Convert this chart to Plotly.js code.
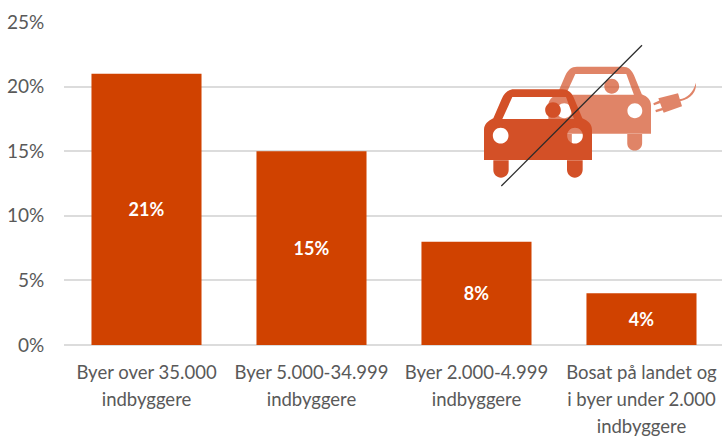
<!DOCTYPE html>
<html><head><meta charset="utf-8">
<script src="https://cdn.plot.ly/plotly-3.0.1.min.js"></script>
<style>html,body{margin:0;padding:0;background:#fff;overflow:hidden}</style>
</head><body><div id="chart" style="width:722px;height:437px"></div>
<script>
const categories = ["Byer over 35.000<br>indbyggere","Byer 5.000-34.999<br>indbyggere","Byer 2.000-4.999<br>indbyggere","Bosat på landet og<br>i byer under 2.000<br>indbyggere"];
const values = [21,15,8,4];
const tickVals = [0,5,10,15,20,25];
const tickText = ["0%","5%","10%","15%","20%","25%"];

const W=722,H=437,ML=64,MT=22,MB=92;
const fx=x=>((x/3+470)-ML)/(W-ML), fy=y=>1-((y/3+30)-MT)/(H-MT-MB);
function pathOf(seg,t){
  return seg.map(s=>{
    const out=[s[0]];
    for(let i=1;i<s.length;i+=2){const [a,b]=t(s[i],s[i+1]);out.push(fx(a)+","+fy(b));}
    return out[0]+out.slice(1).join(" ");
  }).join(" ")+" ";
}
function circ(cx,cy,r){const k=.5523*r;return [
 ["M",cx-r,cy],["C",cx-r,cy-k,cx-k,cy-r,cx,cy-r],["C",cx+k,cy-r,cx+r,cy-k,cx+r,cy],
 ["C",cx+r,cy+k,cx+k,cy+r,cx,cy+r],["C",cx-k,cy+r,cx-r,cy+k,cx-r,cy],["Z"]];}
function leg(x0,x1,y0,y1){const r=(x1-x0)/2,k=.5523*r,yc=y1-r,c=(x0+x1)/2;return [
 ["M",x0,y0],["L",x0,yc],["C",x0,yc+k,c-k,y1,c,y1],["C",c+k,y1,x1,yc+k,x1,yc],["L",x1,y0],["Z"]];}
const carSegs=headX=>[
 ["M",42,390],["L",42,300],["C",42,282,55,272,70,265],["L",95,207],["C",103,188,115,178,132,178],["L",277,178],
 ["C",294,178,306,188,313,207],["L",337,265],["C",354,272,366,282,366,300],["L",366,390],["Z"],
 ["M",97,267],["L",127,201],["L",288,201],["L",312,267],["Z"],
 ...circ(92,317,23.5),...circ(315,317,23.5),...circ(headX,240,23.5),
 ...leg(70,116,391,443),...leg(291,338,391,443)
];
const front=(x,y)=>[x,y];
const rear=(x,y)=>[543-(366-x)*.95,110+(y-178)*.95];
const plugBody=[["M",565,205],["L",624,190],["L",636,229],["L",581,248],["Z"]];
const plugPins=[
 ["M",550,220],["L",570,211],["L",574,218],["L",552,226],["Z"]];
const plugPins2=[
 ["M",556,240],["L",578,233],["L",581,240],["L",558,247],["Z"]];
const plugCable=[["M",628,208],["C",652,204,668,190,678,158],["C",680,185,665,205,631,214],["Z"]];
const pl=(p,c,o)=>({type:"path",xref:"paper",yref:"paper",path:p,fillcolor:c,opacity:o,line:{width:0},layer:"above"});
const shapes=[
 pl(pathOf(carSegs(242),rear),"#D35027",.7),
 pl(pathOf(plugPins,front),"#E08468",1),
 pl(pathOf(plugPins2,front),"#E08468",1),
 pl(pathOf(plugCable,front),"#E08468",1),
 pl(pathOf(plugBody,front),"#E08468",1),
 pl(pathOf(carSegs(249),front),"#D35027",1),
 {type:"line",xref:"paper",yref:"paper",x0:fx(94),y0:fy(468),x1:fx(516),y1:fy(46),line:{color:"#2b2b2b",width:1.3},layer:"above"}
];

const trace={type:"bar",x:categories,y:values,width:.667,
 marker:{color:"#D04200",line:{width:0}},
 text:values.map(v=>v+"%"),textposition:"inside",insidetextanchor:"middle",textangle:0,
 textfont:{family:"Lato, sans-serif",size:18,color:"#fff",weight:700},hoverinfo:"none",cliponaxis:false};
const layout={width:W,height:H,margin:{l:ML,r:0,t:MT,b:MB},showlegend:false,paper_bgcolor:"#fff",plot_bgcolor:"#fff",
 font:{family:"Lato, sans-serif",color:"#595959",size:18.5},
 xaxis:{type:"category",range:[-.5,3.488],fixedrange:true,showgrid:false,zeroline:false,showline:false,ticks:"outside",ticklen:11,tickcolor:"rgba(0,0,0,0)",tickfont:{size:18.5,color:"#595959"},tickangle:0,automargin:false},
 yaxis:{range:[0,25],tickmode:"array",tickvals:tickVals,ticktext:tickText,showgrid:true,gridcolor:"#DCDCDC",gridwidth:2,zeroline:true,zerolinecolor:"#DCDCDC",zerolinewidth:2,showline:false,ticks:"outside",ticklen:15,tickcolor:"rgba(0,0,0,0)",tickfont:{size:19,color:"#595959"},automargin:false},
 shapes:shapes};
Plotly.newPlot("chart",[trace],layout,{staticPlot:true,displayModeBar:false}).then(()=>{
 document.querySelectorAll(".xtick text").forEach(t=>{
  t.querySelectorAll("tspan.line").forEach((s,i)=>s.setAttribute("dy",(i*27)+"px"));
 });
});
</script></body></html>
